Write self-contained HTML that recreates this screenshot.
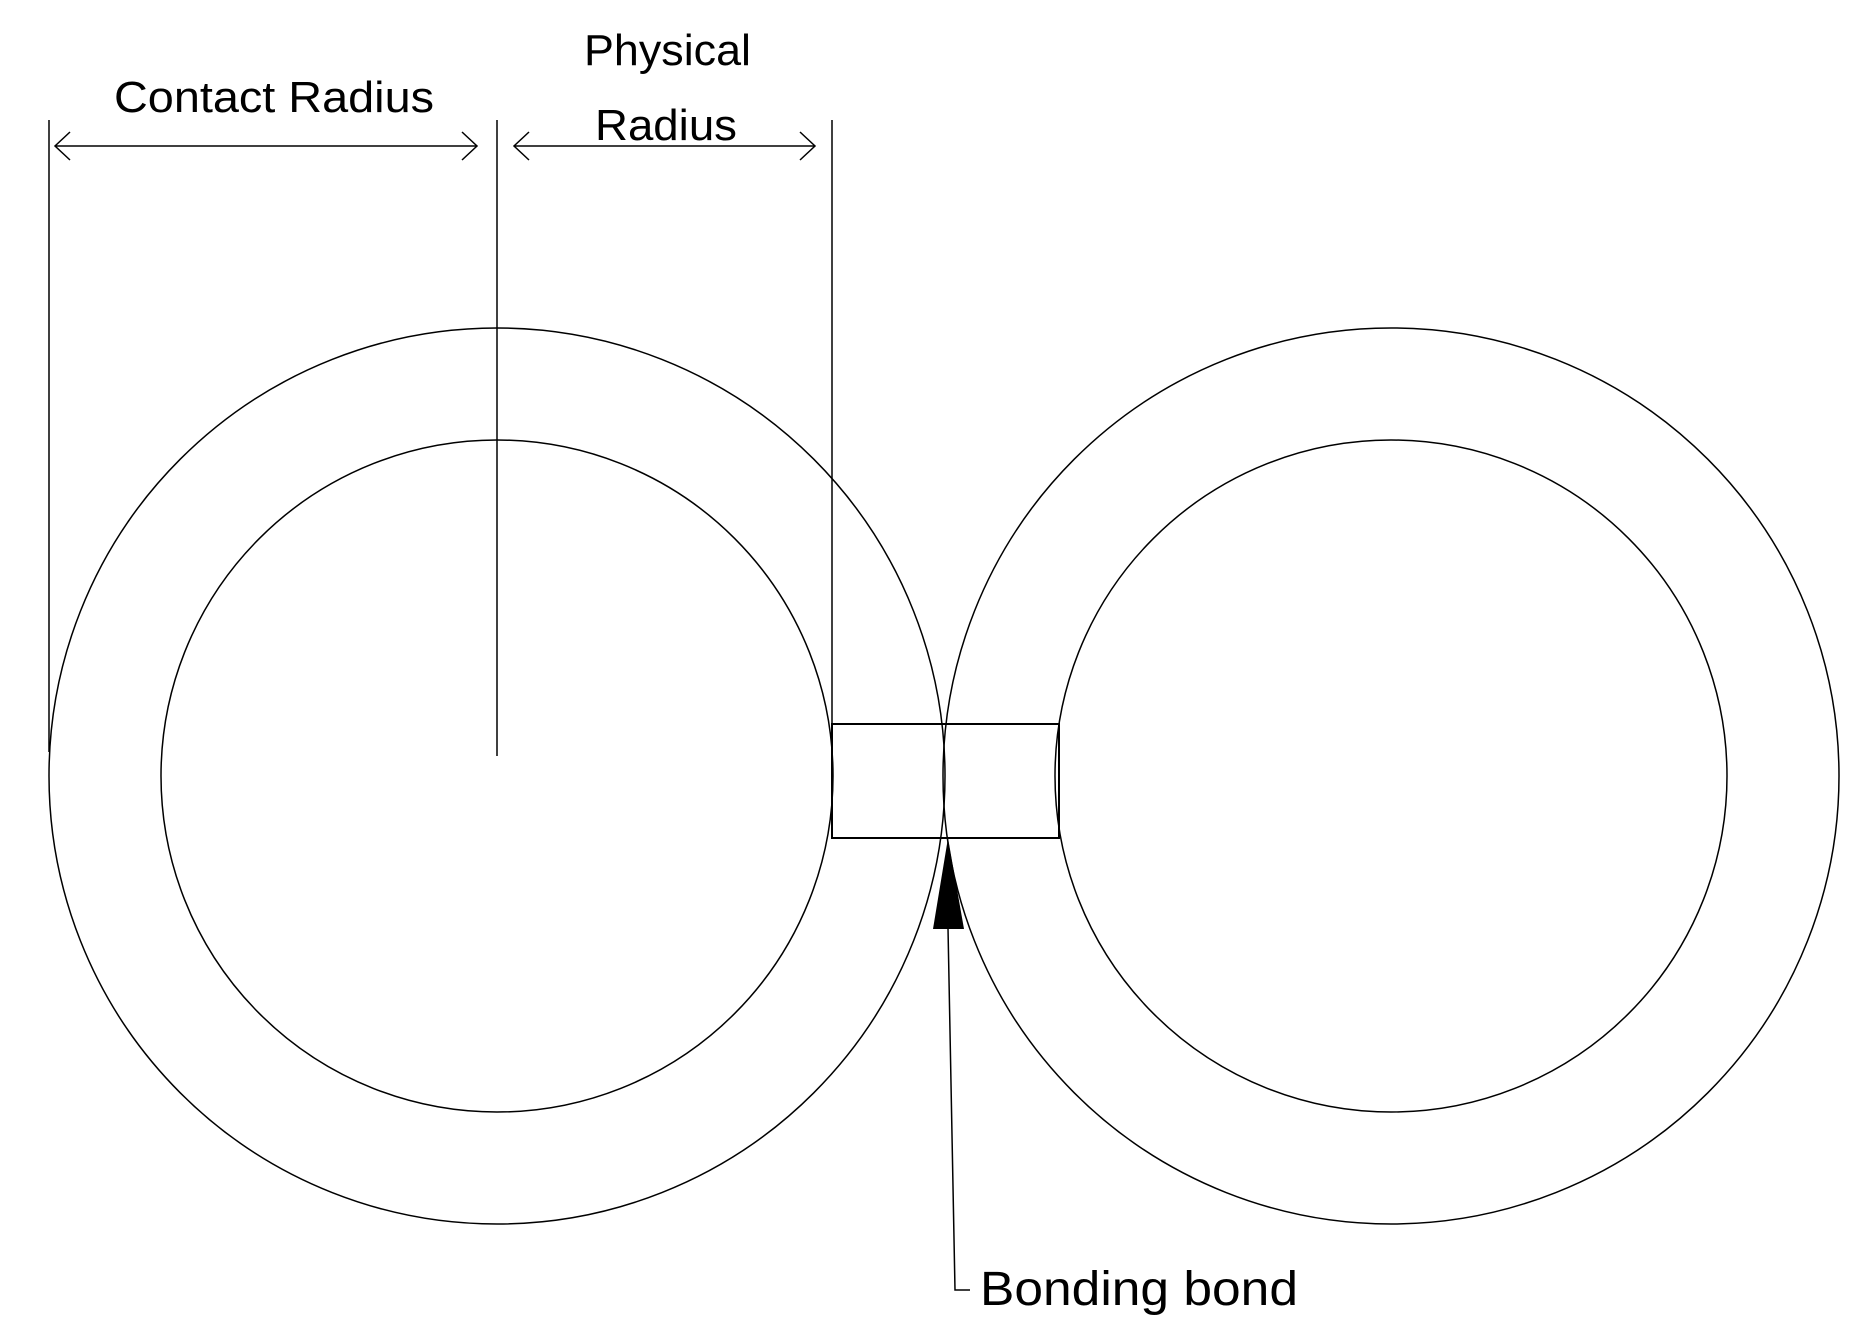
<!DOCTYPE html>
<html><head><meta charset="utf-8"><style>
html,body{margin:0;padding:0;background:#fff;}
svg{display:block;}
text{font-family:"Liberation Sans",sans-serif;fill:#000;}
</style></head><body>
<svg width="1869" height="1332" viewBox="0 0 1869 1332" xmlns="http://www.w3.org/2000/svg">
<g fill="none" stroke="#000" stroke-width="1.5">
<circle cx="497" cy="776" r="448"/>
<circle cx="497" cy="776" r="336"/>
<circle cx="1391" cy="776" r="448"/>
<circle cx="1391" cy="776" r="336"/>
<line x1="49" y1="120" x2="49" y2="752"/>
<line x1="497" y1="120" x2="497" y2="756"/>
<line x1="832" y1="120" x2="832" y2="724"/>
<rect x="832" y="724" width="227" height="114" stroke-width="2"/>
<line x1="55" y1="146" x2="477" y2="146"/>
<polyline points="70,132 55,146 70,160"/>
<polyline points="462,132 477,146 462,160"/>
<line x1="514" y1="146" x2="815" y2="146"/>
<polyline points="529,132 514,146 529,160"/>
<polyline points="800,132 815,146 800,160"/>
<polyline points="948,928 955,1290 970,1290"/>
</g>
<polygon points="948,838 933,929 964,929" fill="#000"/>
<text x="114" y="112" font-size="44" textLength="320" lengthAdjust="spacingAndGlyphs">Contact Radius</text>
<text x="584" y="65" font-size="44" textLength="167" lengthAdjust="spacingAndGlyphs">Physical</text>
<text x="595" y="140" font-size="44" textLength="142" lengthAdjust="spacingAndGlyphs">Radius</text>
<text x="980" y="1305" font-size="48" textLength="318" lengthAdjust="spacingAndGlyphs">Bonding bond</text>
</svg>
</body></html>
